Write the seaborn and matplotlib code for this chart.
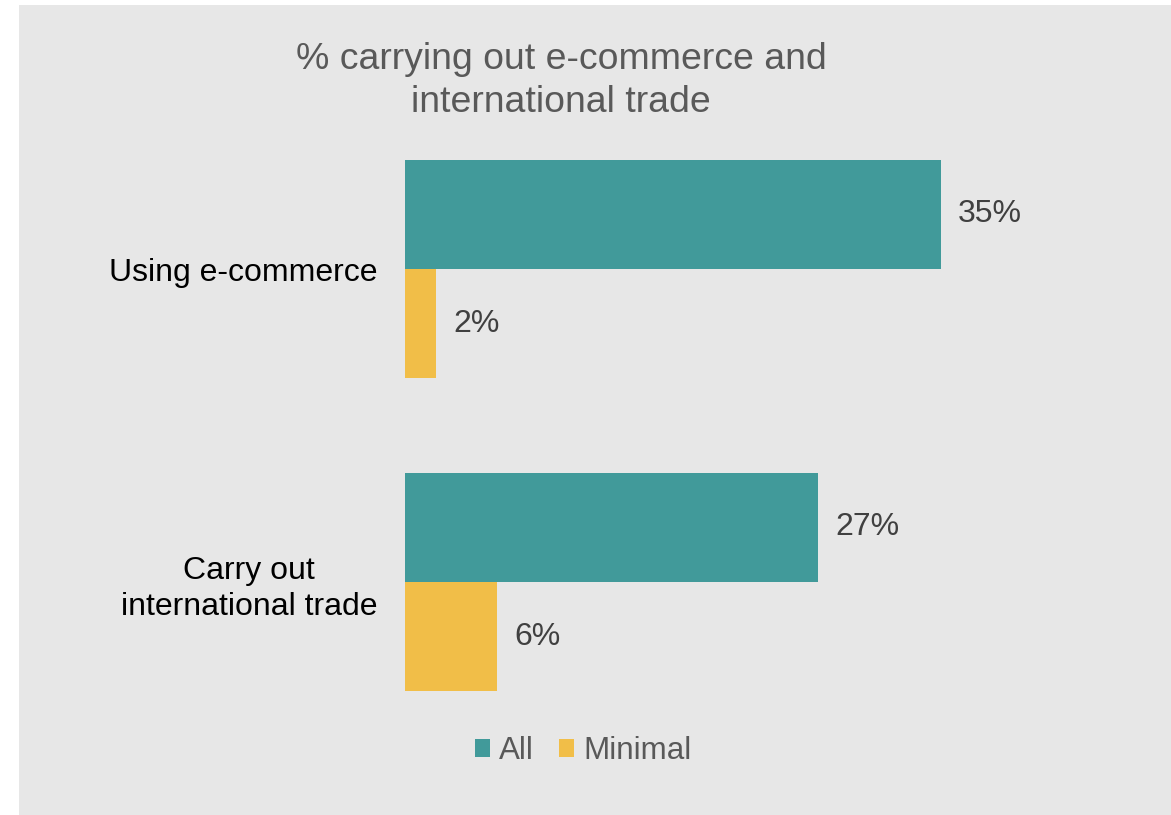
import matplotlib
matplotlib.use("Agg")
import matplotlib.pyplot as plt
import seaborn as sns
import pandas as pd
from matplotlib.patches import Rectangle

# Chart data
categories = ["Using e-commerce", "Carry out\ninternational trade"]
groups = ["All", "Minimal"]
all_values = [35, 27]
minimal_values = [2, 6]

df = pd.DataFrame({
    "category": categories * 2,
    "group": [groups[0]] * len(categories) + [groups[1]] * len(categories),
    "value": all_values + minimal_values,
})

TEAL = "#419A9A"
YELLOW = "#F1BE48"
PANEL = "#E7E7E7"
TITLE_GREY = "#595959"
LABEL_GREY = "#404040"

sns.set_style("white")
plt.rcParams["font.family"] = ["Liberation Sans", "DejaVu Sans"]

W, H = 1171, 815
fig = plt.figure(figsize=(W / 100, H / 100), dpi=100, facecolor="white")

# light grey chart panel with a thin white margin on the left and top
fig.patches.append(Rectangle((19 / W, -0.01), 1.01 - 19 / W, 0.01 + (H - 5) / H,
                             transform=fig.transFigure, facecolor=PANEL,
                             edgecolor="none", zorder=-10))

ax = fig.add_axes([405 / W, (H - 738.5) / H, 612 / W, 626 / H])
ax.patch.set_visible(False)

sns.barplot(data=df, y="category", x="value", hue="group", orient="h",
            palette=[TEAL, YELLOW], saturation=1, width=0.697, linewidth=0,
            errorbar=None, ax=ax)

ax.set_xlim(0, 40)
ax.set_ylim(1.5, -0.5)
ax.set_xlabel("")
ax.set_ylabel("")
ax.set_xticks([])
sns.despine(ax=ax, left=True, bottom=True)

ax.tick_params(axis="y", length=0, pad=20, labelsize=23, labelcolor="black")
for lbl in ax.get_yticklabels():
    lbl.set_multialignment("center")
    lbl.set_linespacing(1.27)

# value labels at the end of each bar
for container in ax.containers:
    ax.bar_label(container,
                 labels=[f"{v:.0f}%" for v in container.datavalues],
                 padding=12.5, fontsize=23, color=LABEL_GREY)

handles, labels = ax.get_legend_handles_labels()
ax.legend(handles, labels, loc="center",
          bbox_to_anchor=(583 / W, 1 - 751 / H), bbox_transform=fig.transFigure,
          ncol=2, frameon=False, fontsize=22.6, labelcolor=TITLE_GREY,
          handlelength=0.5, handleheight=0.5, handletextpad=0.28,
          columnspacing=0.78, borderaxespad=0, borderpad=0)

fig.text(561 / W, 1 - 81 / H, "% carrying out e-commerce and\ninternational trade",
         ha="center", va="center", fontsize=26.9, color=TITLE_GREY,
         linespacing=1.27)

fig.savefig("out.png", dpi=100, facecolor="white")
